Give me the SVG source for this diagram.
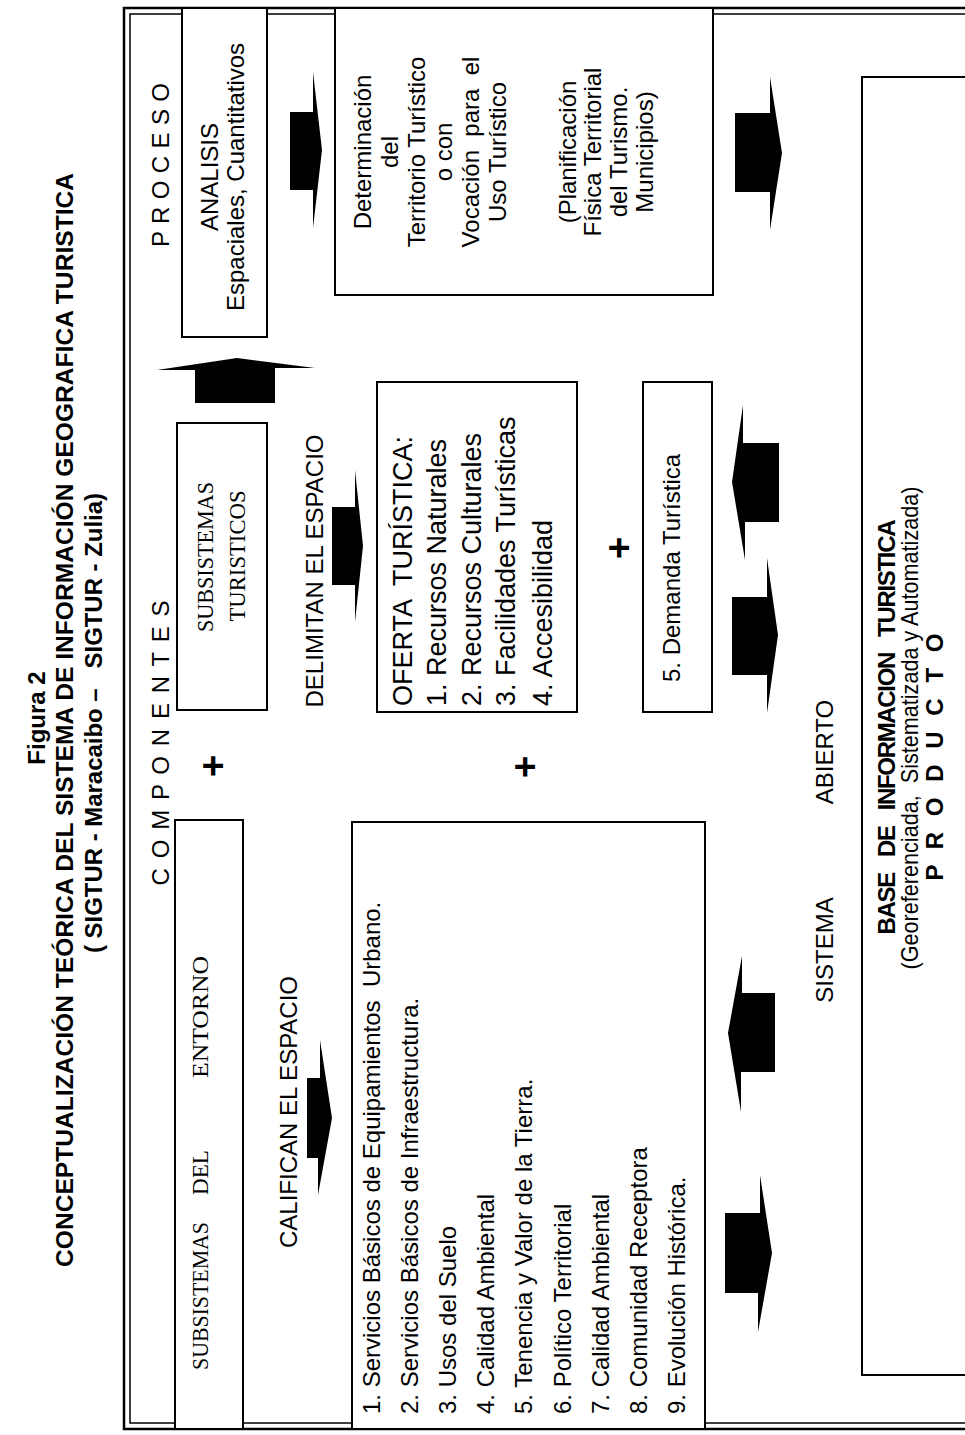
<svg xmlns="http://www.w3.org/2000/svg" width="965" height="1435" viewBox="0 0 965 1435">
<style>
text { font-family: "Liberation Sans", Arial, sans-serif; font-size: 24px; fill: #000; }
.b { font-weight: bold; }
.s { font-family: "Liberation Serif", "Times New Roman", serif; }
.box { fill: #fff; stroke: #000; stroke-width: 2; }
.arrow { fill: #000; stroke: none; }
.pre { white-space: pre; }
.plus { font-weight: bold; font-size: 38px; }
.of { font-size: 27px; }
</style>
<rect width="965" height="1435" fill="#fff"/>
<g id="title">
<text class="b" font-size="24" transform="translate(45,718) rotate(-90)" text-anchor="middle">Figura 2</text>
<text class="b" font-size="24.5" transform="translate(73,720) rotate(-90)" text-anchor="middle" textLength="1094" lengthAdjust="spacingAndGlyphs">CONCEPTUALIZACIÓN TEÓRICA DEL SISTEMA DE INFORMACIÓN GEOGRAFICA TURISTICA</text>
<text class="b pre" font-size="24" transform="translate(102,723) rotate(-90)" text-anchor="middle" textLength="460" lengthAdjust="spacingAndGlyphs">( SIGTUR - Maracaibo –   SIGTUR - Zulia)</text>
</g>
<g id="frame" fill="none" stroke="#000">
<rect x="124" y="8" width="860" height="1421" stroke-width="2.5"/>
<rect x="130" y="14" width="850" height="1409" stroke-width="1.5"/>
</g>
<g id="headers">
<text class="pre" font-size="22" transform="translate(169,165) rotate(-90)" text-anchor="middle" textLength="164" lengthAdjust="spacing">P R O C E S O</text>
<text class="pre" font-size="22" transform="translate(169,743) rotate(-90)" text-anchor="middle" textLength="285" lengthAdjust="spacing">C O M P O N E N T E S</text>
</g>
<g id="analisis">
<rect class="box" x="182" y="8" width="85" height="329"/>
<text transform="translate(218,177) rotate(-90)" text-anchor="middle">ANALISIS</text>
<text transform="translate(244,177) rotate(-90)" text-anchor="middle">Espaciales, Cuantitativos</text>
</g>
<g id="determinacion">
<rect class="box" x="335" y="8" width="378" height="287"/>
<text transform="translate(371,152) rotate(-90)" text-anchor="middle">Determinación</text>
<text transform="translate(398,152) rotate(-90)" text-anchor="middle">del</text>
<text transform="translate(425,152) rotate(-90)" text-anchor="middle">Territorio Turístico</text>
<text transform="translate(452,152) rotate(-90)" text-anchor="middle">o con</text>
<text class="pre" transform="translate(479,152) rotate(-90)" text-anchor="middle">Vocación  para  el</text>
<text transform="translate(506,152) rotate(-90)" text-anchor="middle">Uso Turístico</text>
<text transform="translate(576,152) rotate(-90)" text-anchor="middle">(Planificación</text>
<text transform="translate(601,152) rotate(-90)" text-anchor="middle">Física Territorial</text>
<text transform="translate(627,152) rotate(-90)" text-anchor="middle">del Turismo.</text>
<text transform="translate(653,152) rotate(-90)" text-anchor="middle">Municipios)</text>
</g>
<g id="subsistemas-turisticos">
<rect class="box" x="177" y="423" width="90" height="287"/>
<text class="s" font-size="25" transform="translate(213,557) rotate(-90)" text-anchor="middle" textLength="150" lengthAdjust="spacingAndGlyphs">SUBSISTEMAS</text>
<text class="s" font-size="25" transform="translate(245,556) rotate(-90)" text-anchor="middle" textLength="131" lengthAdjust="spacingAndGlyphs">TURISTICOS</text>
</g>
<g id="delimitan">
<text transform="translate(323,571) rotate(-90)" text-anchor="middle">DELIMITAN EL ESPACIO</text>
</g>
<g id="oferta">
<rect class="box" x="377" y="382" width="200" height="330"/>
<text class="of pre" transform="translate(412,706) rotate(-90)">OFERTA  TURÍSTICA:</text>
<text class="of" transform="translate(446,706) rotate(-90)">1. Recursos Naturales</text>
<text class="of" transform="translate(481,706) rotate(-90)">2. Recursos Culturales</text>
<text class="of" transform="translate(515,706) rotate(-90)">3. Facilidades Turísticas</text>
<text class="of" transform="translate(552,706) rotate(-90)">4. Accesibilidad</text>
</g>
<g id="demanda">
<rect class="box" x="643" y="382" width="69" height="330"/>
<text transform="translate(680,682) rotate(-90)">5. Demanda Turística</text>
</g>
<g id="plus">
<text class="plus" transform="translate(226,766) rotate(-90)" text-anchor="middle">+</text>
<text class="plus" transform="translate(538,767) rotate(-90)" text-anchor="middle">+</text>
<text class="plus" transform="translate(632,548) rotate(-90)" text-anchor="middle">+</text>
</g>
<g id="entorno">
<rect class="box" x="175" y="820" width="68" height="609"/>
<text class="s" font-size="25" transform="translate(208,1370) rotate(-90)"><tspan x="0" textLength="148" lengthAdjust="spacingAndGlyphs">SUBSISTEMAS</tspan><tspan x="175" textLength="45" lengthAdjust="spacingAndGlyphs">DEL</tspan><tspan x="292" textLength="122" lengthAdjust="spacingAndGlyphs">ENTORNO</tspan></text>
</g>
<g id="califican">
<text transform="translate(297,1112) rotate(-90)" text-anchor="middle">CALIFICAN EL ESPACIO</text>
</g>
<g id="lista">
<rect class="box" x="352" y="822" width="353" height="607"/>
<text class="pre" font-size="24.5" transform="translate(380,1414) rotate(-90)">1. Servicios Básicos de Equipamientos  Urbano.</text>
<text font-size="24.5" transform="translate(418,1414) rotate(-90)">2. Servicios Básicos de Infraestructura.</text>
<text font-size="24.5" transform="translate(456,1414) rotate(-90)">3. Usos del Suelo</text>
<text font-size="24.5" transform="translate(494,1414) rotate(-90)">4. Calidad Ambiental</text>
<text font-size="24.5" transform="translate(532,1414) rotate(-90)">5. Tenencia y Valor de la Tierra.</text>
<text font-size="24.5" transform="translate(571,1414) rotate(-90)">6. Político Territorial</text>
<text font-size="24.5" transform="translate(609,1414) rotate(-90)">7. Calidad Ambiental</text>
<text font-size="24.5" transform="translate(647,1414) rotate(-90)">8. Comunidad Receptora</text>
<text font-size="24.5" transform="translate(685,1414) rotate(-90)">9. Evolución Histórica.</text>
</g>
<g id="sistema-abierto">
<text transform="translate(833,950) rotate(-90)" text-anchor="middle">SISTEMA</text>
<text transform="translate(833,752) rotate(-90)" text-anchor="middle">ABIERTO</text>
</g>
<g id="producto">
<rect class="box" x="862" y="77" width="120" height="1298"/>
<text class="b pre" font-size="21" transform="translate(895,727) rotate(-90)" text-anchor="middle" textLength="415" lengthAdjust="spacing">BASE   DE   INFORMACION   TURISTICA</text>
<text class="pre" font-size="21.5" transform="translate(918,728) rotate(-90)" text-anchor="middle" textLength="483" lengthAdjust="spacingAndGlyphs">(Georeferenciada,  Sistematizada y Automatizada)</text>
<text class="b pre" font-size="21" transform="translate(943,757) rotate(-90)" text-anchor="middle" textLength="247" lengthAdjust="spacing">P R O D U C T O</text>
</g>
<g id="connectors">
<polygon class="arrow" points="290,112 313,112 313,72 322,150 313,228 313,190 290,190"/>
<polygon class="arrow" points="195,403 195,370 157,370 237,358 315,368 275,368 275,403"/>
<polygon class="arrow" points="735,113 770,113 770,77 782,153 770,230 770,192 735,192"/>
<polygon class="arrow" points="332,507 355,507 355,470 363,546 355,622 355,585 332,585"/>
<polygon class="arrow" points="779,443 743,443 743,405 732,482 745,560 745,522 779,522"/>
<polygon class="arrow" points="732,597 767,597 767,558 778,635 767,713 767,675 732,675"/>
<polygon class="arrow" points="775,993 742,993 742,956 728,1033 741,1112 741,1072 775,1072"/>
<polygon class="arrow" points="725,1213 760,1213 760,1175 772,1253 758,1332 758,1293 725,1293"/>
<polygon class="arrow" points="307,1078 320,1078 320,1040 332,1118 318,1195 318,1158 307,1158"/>
</g>
</svg>
